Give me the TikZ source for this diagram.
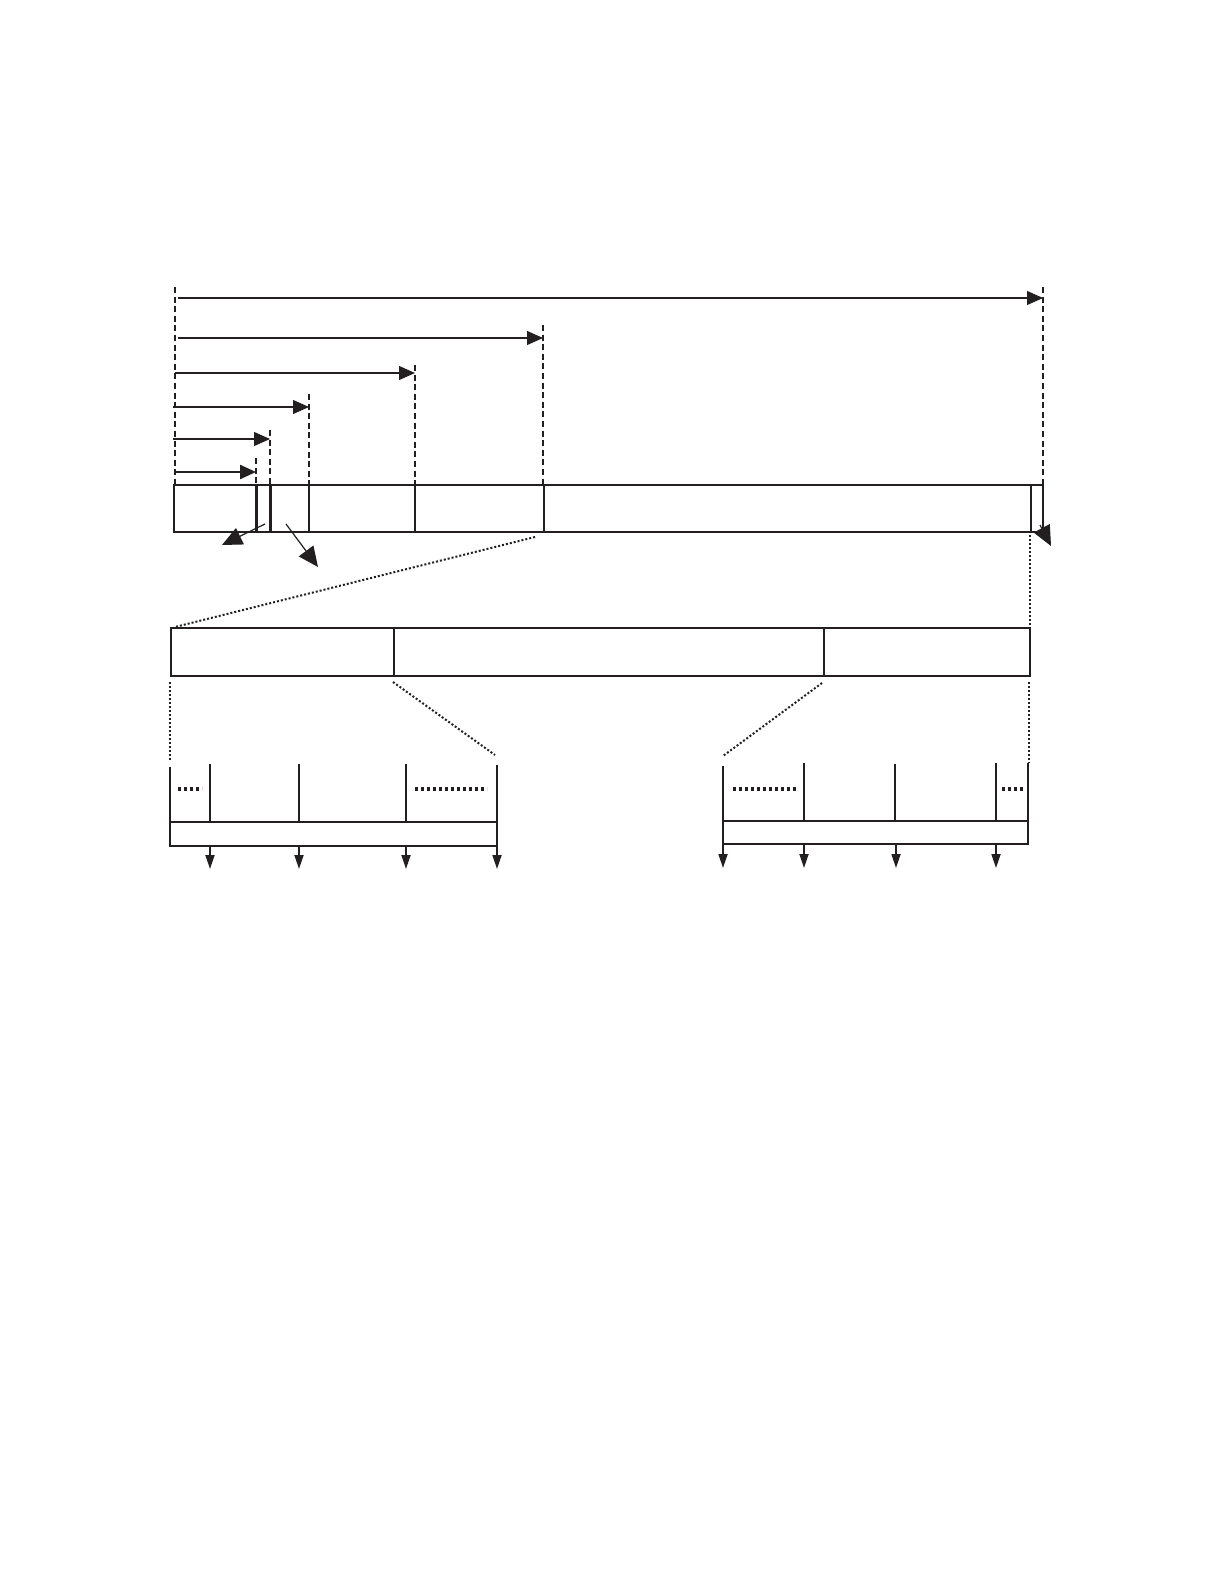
\documentclass[tikz,border=0pt]{standalone}
\usetikzlibrary{arrows.meta}
\definecolor{ink}{RGB}{35,31,32}
\begin{document}
\begin{tikzpicture}[x=0.5pt,y=-0.5pt, color=ink,
  frame/.style={line width=1.2pt},
  thick divider/.style={line width=1.5pt},
  thin divider/.style={line width=0.6pt},
  guide/.style={dash pattern=on 3pt off 1.8pt, line width=0.55pt},
  span/.style={line width=0.55pt, -{Triangle[length=8pt,width=7pt,fill=ink]}},
  pointer/.style={line width=0.6pt, -{Triangle[length=10pt,width=9pt,fill=ink]}},
  outarrow/.style={line width=0.9pt, -{Triangle[length=7pt,width=4.5pt,fill=ink]}},
  zoomline/.style={line width=1pt, dash pattern=on 1pt off 1pt},
  ellipsisdots/.style={line width=1.6pt, dash pattern=on 1.6pt off 1.4pt}
]
\useasboundingbox (0,0) rectangle (1220,1588);

% ---------- main bar ----------
\coordinate (A1) at (174,485); \coordinate (A2) at (1043,532);
\draw[frame] (A1) rectangle (A2);
\foreach \x in {256,270} \draw[thick divider] (\x,485) -- (\x,532);
\foreach \x in {309,415,544,1031} \draw[frame] (\x,485) -- (\x,532);

% ---------- guides ----------
\draw[guide] (175,287) -- (175,485);
\draw[guide] (256,458) -- (256,485);
\draw[guide] (270,430) -- (270,485);
\draw[guide] (309,394) -- (309,485);
\draw[guide] (415,365) -- (415,485);
\draw[guide] (543,325) -- (543,485);
\draw[guide] (1043,287) -- (1043,485);

% ---------- spans ----------
\coordinate (s0) at (178,298); \coordinate (e0) at (1043,298);
\coordinate (s1) at (178,338); \coordinate (e1) at (543,338);
\coordinate (s2) at (175,373); \coordinate (e2) at (415,373);
\coordinate (s3) at (173,407); \coordinate (e3) at (309,407);
\coordinate (s4) at (173,439); \coordinate (e4) at (270,439);
\coordinate (s5) at (175,472); \coordinate (e5) at (256,472);
\draw[span] (s0) -- (e0);
\draw[span] (s1) -- (e1);
\draw[span] (s2) -- (e2);
\draw[span] (s3) -- (e3);
\draw[span] (s4) -- (e4);
\draw[span, line width=1.2pt] (s5) -- (e5);

% ---------- pointers ----------
\coordinate (p1s) at (265,524); \coordinate (p1e) at (222,545);
\coordinate (p2s) at (286,524); \coordinate (p2e) at (318,567);
\coordinate (p3s) at (1040,525); \coordinate (p3e) at (1051,546);
\draw[pointer] (p1s) -- (p1e);
\draw[pointer] (p2s) -- (p2e);
\draw[pointer] (p3s) -- (p3e);

% ---------- second bar ----------
\coordinate (B1) at (171,628); \coordinate (B2) at (1030,676);
\draw[frame] (B1) rectangle (B2);
\draw[frame] (394,628) -- (394,676);
\draw[thin divider] (824,628) -- (824,676);

% zoom lines
\draw[zoomline] (535,537) -- (175,627);
\draw[zoomline] (1030,535) -- (1030,628);
\draw[zoomline] (170,682) -- (170,760);
\draw[zoomline] (393,682) -- (495,755);
\draw[zoomline] (822,683) -- (723,756);
\draw[zoomline] (1029,682) -- (1029,763);

% ---------- lower-left detail ----------
\draw[frame] (170,767) -- (170,846) -- (497,846) -- (497,765);
\draw[frame] (170,822) -- (497,822);
\draw[thin divider] (210,764) -- (210,822);
\draw[frame] (299,764) -- (299,822);
\draw[frame] (406,764) -- (406,822);
\draw[ellipsisdots] (178,789) -- (202,789);
\draw[ellipsisdots] (415,789) -- (487,789);
\foreach \x in {210,299,406,497} \draw[outarrow] (\x,846) -- (\x,869);

% ---------- lower-right detail ----------
\draw[frame] (723,766) -- (723,844) -- (1028,844) -- (1028,763);
\draw[thin divider] (723,821) -- (1028,821);
\draw[frame] (804,763) -- (804,821);
\draw[frame] (895,764) -- (895,821);
\draw[frame] (996,763) -- (996,821);
\draw[ellipsisdots] (733,789) -- (797,789);
\draw[ellipsisdots] (1002,789) -- (1025,789);
\foreach \x in {723,804,896,996} \draw[outarrow] (\x,844) -- (\x,868);

\end{tikzpicture}
\end{document}
